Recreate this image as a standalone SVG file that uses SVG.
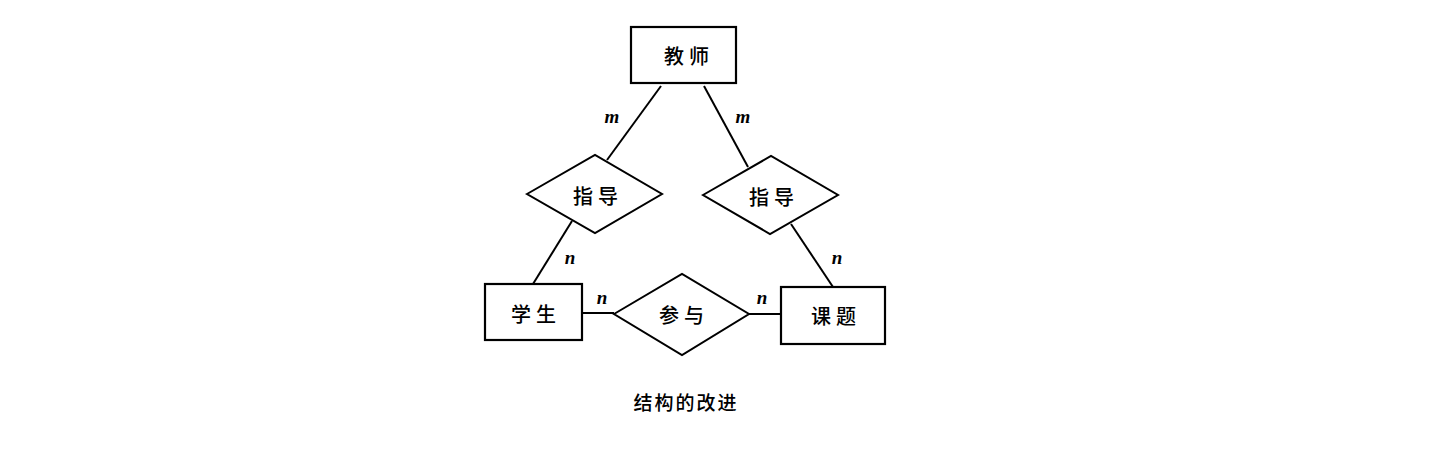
<svg xmlns="http://www.w3.org/2000/svg" width="1436" height="450" viewBox="0 0 1436 450">
<style>
.box{fill:#fff;stroke:#000;stroke-width:2.2}
.dia{fill:#fff;stroke:#000;stroke-width:2}
.ln{stroke:#000;stroke-width:2;fill:none}
.t{font-family:"Noto Sans CJK SC","Noto Sans CJK JP",sans-serif;font-size:20px;font-weight:500;letter-spacing:5px;text-anchor:middle;dominant-baseline:central;fill:#000}
.lb{font-family:"Liberation Serif",serif;font-style:italic;font-weight:bold;font-size:19px;text-anchor:middle;fill:#000}
.cap{font-family:"Noto Sans CJK SC","Noto Sans CJK JP",sans-serif;font-size:19px;font-weight:500;letter-spacing:2px;text-anchor:middle;fill:#000}
</style>
<rect width="1436" height="450" fill="#fff"/>
<g id="connectors">
<line class="ln" x1="661" y1="86" x2="607" y2="160"/>
<line class="ln" x1="704" y1="86" x2="748" y2="167"/>
<line class="ln" x1="572" y1="221" x2="533" y2="284"/>
<line class="ln" x1="791" y1="224" x2="833" y2="287"/>
<line class="ln" x1="582" y1="313" x2="614" y2="313"/>
<line class="ln" x1="749" y1="314" x2="781" y2="314" stroke-width="2.5"/>
<text class="lb" x="612" y="123">m</text>
<text class="lb" x="743" y="123">m</text>
<text class="lb" x="570" y="264">n</text>
<text class="lb" x="837" y="264">n</text>
<text class="lb" x="602" y="304">n</text>
<text class="lb" x="762" y="304">n</text>
</g>
<g id="teacher"><rect class="box" x="631" y="27" width="105" height="56"/><text class="t" x="689" y="55">教师</text></g>
<g id="guide1"><polygon class="dia" points="527,194 595,155 662,194 595,233"/><text class="t" x="598" y="195">指导</text></g>
<g id="guide2"><polygon class="dia" points="703,195 771,156 838,195 770,234"/><text class="t" x="774" y="196">指导</text></g>
<g id="student"><rect class="box" x="485" y="284" width="97" height="56"/><text class="t" x="536" y="313">学生</text></g>
<g id="participate"><polygon class="dia" points="614,314 682,274 749,314 682,355"/><text class="t" x="684" y="314">参与</text></g>
<g id="topic"><rect class="box" x="781" y="287" width="104" height="57"/><text class="t" x="836" y="315">课题</text></g>
<text class="cap" x="686" y="410">结构的改进</text>
</svg>
